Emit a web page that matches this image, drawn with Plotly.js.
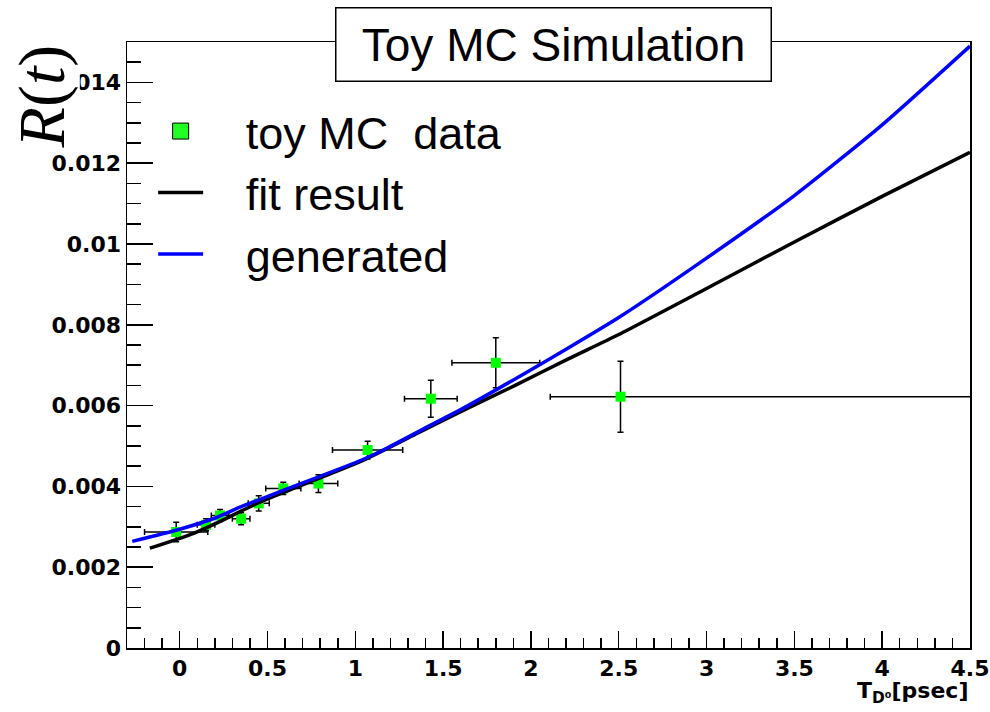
<!DOCTYPE html>
<html>
<head>
<meta charset="utf-8">
<script src="https://cdn.plot.ly/plotly-3.0.1.min.js"></script>
<style>html,body{margin:0;padding:0;background:#fff;}#chart{width:990px;height:712px;}</style>
</head>
<body>
<div id="chart"></div>
<script>
// toy MC data points
const dataX = [-0.02, 0.15, 0.23, 0.35, 0.45, 0.59, 0.79, 1.07, 1.43, 1.80, 2.51];
const dataY = [0.00287, 0.00305, 0.00328, 0.00320, 0.00358, 0.00395, 0.00407, 0.00490, 0.00617, 0.00706, 0.00622];
const errXMinus = [0.18, 0.05, 0.05, 0.05, 0.06, 0.10, 0.11, 0.20, 0.15, 0.25, 0.40];
const errXPlus  = [0.18, 0.05, 0.05, 0.05, 0.06, 0.10, 0.11, 0.20, 0.15, 0.25, 2.50];
const errY = [0.00024, 0.00015, 0.00015, 0.00015, 0.00019, 0.00015, 0.00022, 0.00022, 0.00046, 0.00062, 0.00088];

// fit result curve
const fitX = [-0.17, 0.08, 0.21, 0.45, 1.04, 1.36, 1.60, 1.91, 2.21, 2.5, 3.0, 3.5, 4.0, 4.5];
const fitY = [0.00247, 0.00284, 0.00309, 0.00360, 0.00464, 0.00533, 0.00585, 0.00650, 0.00715, 0.00776, 0.00890, 0.01005, 0.01118, 0.01227];

// generated curve
const genX = [-0.27, 0.0, 0.21, 0.34, 0.60, 1.04, 1.19, 1.435, 1.60, 1.91, 2.21, 2.5, 3.0, 3.5, 4.0, 4.5];
const genY = [0.00264, 0.00294, 0.00323, 0.00348, 0.00392, 0.00466, 0.00497, 0.00553, 0.00590, 0.00666, 0.00742, 0.00818, 0.00965, 0.01120, 0.01295, 0.01490];

const xTickVals = [0, 0.5, 1, 1.5, 2, 2.5, 3, 3.5, 4, 4.5];
const xTickText = ['0', '0.5', '1', '1.5', '2', '2.5', '3', '3.5', '4', '4.5'];
const yTickVals = [0, 0.002, 0.004, 0.006, 0.008, 0.01, 0.012, 0.014];
const yTickText = ['0', '0.002', '0.004', '0.006', '0.008', '0.01', '0.012', '0.014'];

const legendNames = ['toy MC  data', 'fit result', 'generated'];
const legendPad = '\u00a0\u00a0\u00a0';
const titleText = 'Toy MC Simulation';

const traces = [
  {
    x: dataX, y: dataY, type: 'scatter', mode: 'markers', showlegend: false,
    marker: {symbol: 'square', size: 10, color: '#00ff00'},
    error_x: {type: 'data', symmetric: false, array: errXPlus, arrayminus: errXMinus, color: '#000', thickness: 1.5, width: 3},
    error_y: {type: 'data', array: errY, color: '#000', thickness: 1.5, width: 3}
  },
  {
    x: [null], y: [null], type: 'scatter', mode: 'markers', name: legendPad + legendNames[0],
    marker: {symbol: 'square', size: 20, color: '#22ff22', line: {color: '#000', width: 1}}
  },
  {
    x: fitX, y: fitY, type: 'scatter', mode: 'lines', name: legendPad + legendNames[1],
    line: {color: '#000000', width: 3.5, shape: 'spline', smoothing: 0.6}
  },
  {
    x: genX, y: genY, type: 'scatter', mode: 'lines', name: legendPad + legendNames[2],
    line: {color: '#0000ff', width: 3.5, shape: 'spline', smoothing: 0.6}
  }
];

const tickFont = {family: 'DejaVu Sans', size: 22, color: '#000', weight: 'bold'};

const layout = {
  width: 990, height: 712,
  margin: {l: 127, r: 20, t: 42, b: 64},
  paper_bgcolor: '#fff', plot_bgcolor: '#fff',
  showlegend: true,
  legend: {
    x: 0.031, y: 0.912, xanchor: 'left', yanchor: 'top',
    bgcolor: 'rgba(0,0,0,0)', borderwidth: 0,
    font: {family: 'Liberation Sans', size: 45, color: '#000'},
    itemwidth: 45, tracegroupgap: 0
  },
  xaxis: {
    range: [-0.3, 4.5001], showgrid: false, zeroline: false,
    showline: true, linecolor: '#000', linewidth: 1.5, mirror: true,
    ticks: 'inside', ticklen: 17, tickwidth: 1.5, tickcolor: '#000',
    tickvals: xTickVals, ticktext: xTickText, tickfont: tickFont,
    minor: {ticks: 'inside', ticklen: 10, dtick: 0.1, tickwidth: 1.5, tickcolor: '#000', showgrid: false}
  },
  yaxis: {
    range: [0, 0.015], showgrid: false, zeroline: false,
    showline: true, linecolor: '#000', linewidth: 1.5, mirror: true,
    ticks: 'inside', ticklen: 26, tickwidth: 1.5, tickcolor: '#000',
    tickvals: yTickVals, ticktext: yTickText, tickfont: tickFont,
    minor: {ticks: 'inside', ticklen: 14, dtick: 0.0005, tickwidth: 1.5, tickcolor: '#000', showgrid: false}
  },
  annotations: [
    {
      text: titleText, xref: 'paper', yref: 'paper', x: 0.506, y: 0.996,
      xanchor: 'center', yanchor: 'middle', showarrow: false,
      font: {family: 'Liberation Sans', size: 46, color: '#000'},
      bgcolor: '#fff', bordercolor: '#000', borderwidth: 1.5, width: 432, height: 70
    },
    {
      text: '<i>R</i>(<i>t</i>)', xref: 'paper', yref: 'paper', x: -0.101, y: 0.91,
      xanchor: 'center', yanchor: 'middle', showarrow: false, textangle: -90,
      font: {family: 'Liberation Serif', size: 66, color: '#000'},
      bgcolor: '#fff', borderpad: 0
    },
    {
      text: '<b>T<sub>D⁰</sub>[psec]</b>', xref: 'paper', yref: 'paper', x: 1.0, y: -0.046,
      xanchor: 'right', yanchor: 'top', showarrow: false,
      font: {family: 'DejaVu Sans', size: 22, color: '#000'}
    }
  ]
};

Plotly.newPlot('chart', traces, layout, {displayModeBar: false, staticPlot: true});
</script>
</body>
</html>
